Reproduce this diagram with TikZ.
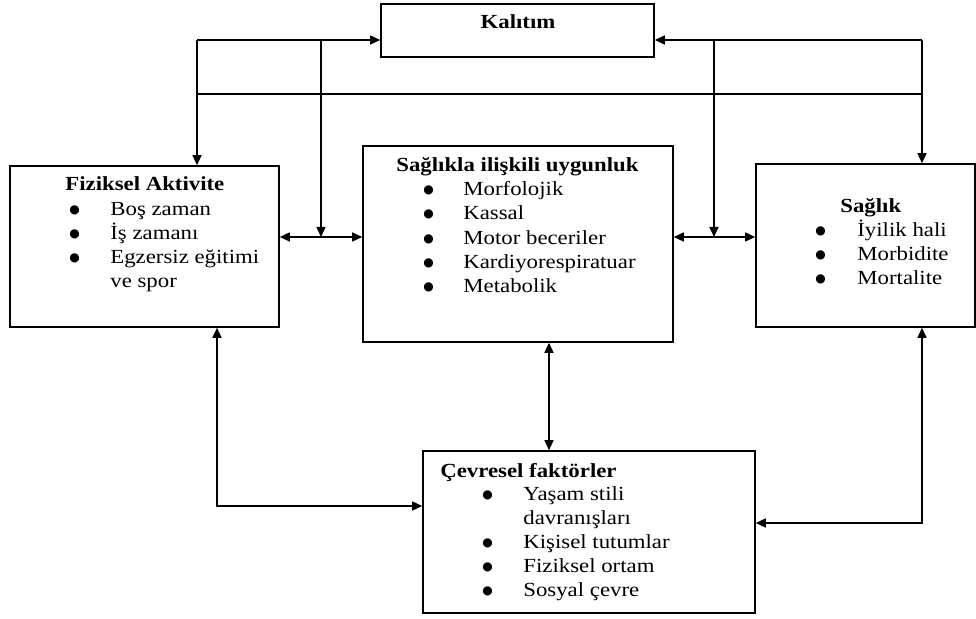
\documentclass[tikz,border=0pt]{standalone}
\usepackage{fontspec}
\setmainfont{Liberation Serif}[FakeStretch=1.14]
\newfontfamily\bulfont{DejaVu Sans}
\usetikzlibrary{arrows.meta,fit}
\newcommand{\bigbul}{{\bulfont\fontsize{6pt}{7pt}\selectfont\raisebox{1.4pt}{●}}}
\begin{document}
\begin{tikzpicture}[x=0.5pt,y=-0.5pt,
  box/.style={draw, line width=0.8pt, inner sep=0pt},
  lbl/.style={anchor=base west, inner sep=0pt, font=\fontsize{10pt}{12pt}\selectfont},
  ttl/.style={anchor=base west, inner sep=0pt, font=\fontsize{10pt}{12pt}\selectfont\bfseries},
  con/.style={line width=0.75pt},
  arr/.style={con, -{Triangle[length=5pt,width=4.5pt]}},
  darr/.style={con, {Triangle[length=5pt,width=4.5pt]}-{Triangle[length=5pt,width=4.5pt]}}]
\useasboundingbox (0,0) rectangle (976,619);
% boxes
\node[box, fit={(381,4)(654,57)}] (kal) {};
\node[box, fit={(10,166)(279,327)}] (fa) {};
\node[box, fit={(363,146)(673,342)}] (su) {};
\node[box, fit={(756,164)(975,327)}] (sag) {};
\node[box, fit={(423,451)(755,613)}] (cev) {};
% Kalitim
\node[ttl, anchor=base] (kalT) at (518,29) {Kalıtım};
% Fiziksel Aktivite
\node[ttl] (faT) at (65,191) {Fiziksel Aktivite};
\node[lbl] (faB1) at (69,216) {\bigbul}; \node[lbl] (faI1) at (110,216) {Boş zaman};
\node[lbl] (faB2) at (69,240) {\bigbul}; \node[lbl] (faI2) at (110,240) {İş zamanı};
\node[lbl] (faB3) at (69,264) {\bigbul}; \node[lbl] (faI3) at (110,264) {Egzersiz eğitimi};
\node[lbl] (faI4) at (110,288) {ve spor};
% Saglikla iliskili uygunluk
\node[ttl] (suT) at (396,172) {Sağlıkla ilişkili uygunluk};
\node[lbl] (suB1) at (423,196) {\bigbul}; \node[lbl] (suI1) at (463,196) {Morfolojik};
\node[lbl] (suB2) at (423,220) {\bigbul}; \node[lbl] (suI2) at (463,220) {Kassal};
\node[lbl] (suB3) at (423,245) {\bigbul}; \node[lbl] (suI3) at (463,245) {Motor beceriler};
\node[lbl] (suB4) at (423,269) {\bigbul}; \node[lbl] (suI4) at (463,269) {Kardiyorespiratuar};
\node[lbl] (suB5) at (423,293) {\bigbul}; \node[lbl] (suI5) at (463,293) {Metabolik};
% Saglik
\node[ttl] (sagT) at (840,213) {Sağlık};
\node[lbl] (sagB1) at (815,237) {\bigbul}; \node[lbl] (sagI1) at (857,237) {İyilik hali};
\node[lbl] (sagB2) at (815,261) {\bigbul}; \node[lbl] (sagI2) at (857,261) {Morbidite};
\node[lbl] (sagB3) at (815,285) {\bigbul}; \node[lbl] (sagI3) at (857,285) {Mortalite};
% Cevresel faktorler
\node[ttl] (cevT) at (440,478) {Çevresel faktörler};
\node[lbl] (cevB1) at (482,501) {\bigbul}; \node[lbl] (cevI1) at (523,501) {Yaşam stili};
\node[lbl] (cevI1b) at (523,525) {davranışları};
\node[lbl] (cevB2) at (482,549) {\bigbul}; \node[lbl] (cevI2) at (523,549) {Kişisel tutumlar};
\node[lbl] (cevB3) at (482,573) {\bigbul}; \node[lbl] (cevI3) at (523,573) {Fiziksel ortam};
\node[lbl] (cevB4) at (482,597) {\bigbul}; \node[lbl] (cevI4) at (523,597) {Sosyal çevre};
% connector coordinates
\coordinate (kL) at (197,40);
\coordinate (kR) at (922,40);
\coordinate (vL) at (321,40);
\coordinate (vR) at (714,40);
\coordinate (hL) at (197,94);
\coordinate (hR) at (922,94);
\coordinate (m) at (0,237);
\coordinate (cx) at (549,0);
\coordinate (lc) at (217,506);
\coordinate (rc) at (922,523);
% connectors
\draw[arr] (kL) -- (kal.west |- kL);
\draw[arr] (kL) -- (kL |- fa.north);
\draw[arr] (kR) -- (kal.east |- kR);
\draw[arr] (kR) -- (kR |- sag.north);
\draw[con] (hL) -- (hR);
\draw[arr] (vL) -- (vL |- m);
\draw[arr] (vR) -- (vR |- m);
\draw[darr] (fa.east |- m) -- (su.west |- m);
\draw[darr] (su.east |- m) -- (sag.west |- m);
\draw[darr] (cx |- su.south) -- (cx |- cev.north);
\draw[darr] (lc |- fa.south) -- (lc) -- (cev.west |- lc);
\draw[darr] (rc |- sag.south) -- (rc) -- (cev.east |- rc);
\end{tikzpicture}
\end{document}
